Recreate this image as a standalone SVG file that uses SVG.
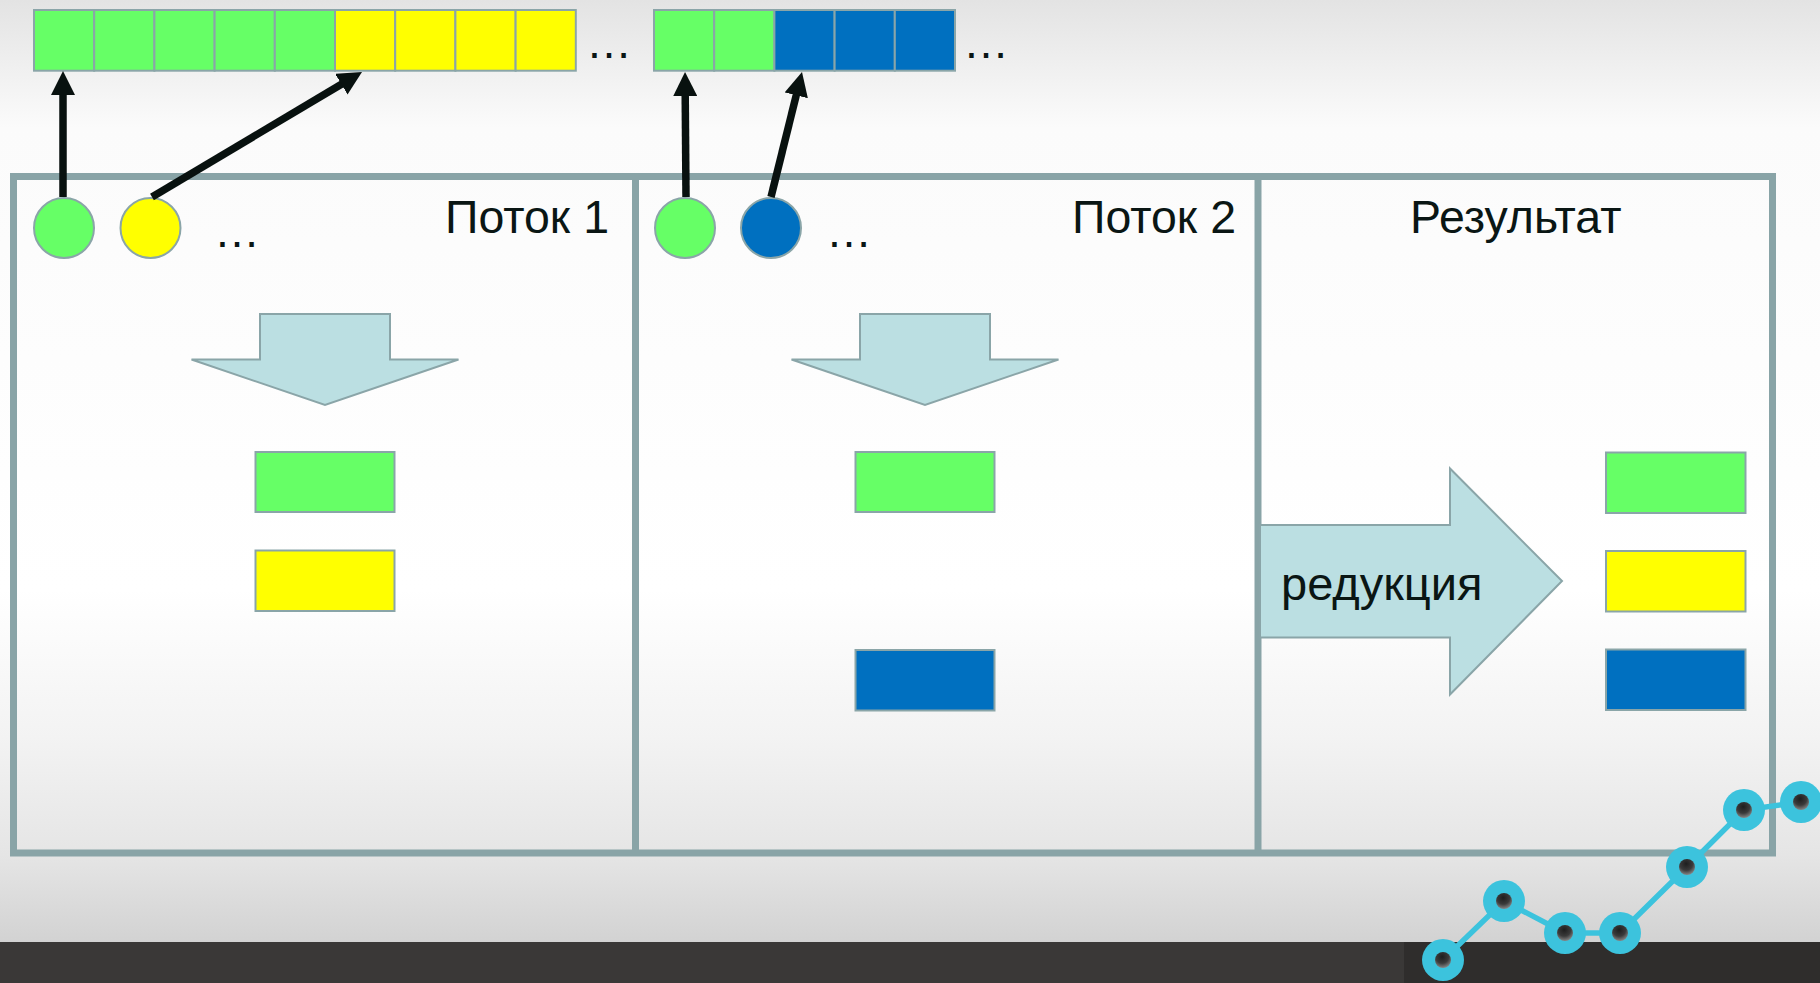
<svg xmlns="http://www.w3.org/2000/svg" width="1820" height="983" viewBox="0 0 1820 983">
<defs>
<linearGradient id="bg" x1="0" y1="0" x2="0" y2="983" gradientUnits="userSpaceOnUse">
<stop offset="0" stop-color="#e3e3e3"/>
<stop offset="0.13" stop-color="#fbfbfb"/>
<stop offset="0.6" stop-color="#ffffff"/>
<stop offset="0.75" stop-color="#f3f3f3"/>
<stop offset="0.87" stop-color="#e5e5e5"/>
<stop offset="0.96" stop-color="#d2d2d2"/>
</linearGradient>
<radialGradient id="dot" cx="0.45" cy="0.3" r="0.8">
<stop offset="0" stop-color="#1e1e1e"/>
<stop offset="0.5" stop-color="#3a3a3a"/>
<stop offset="1" stop-color="#a0a0a0"/>
</radialGradient>
<marker id="ah" markerUnits="userSpaceOnUse" markerWidth="24" markerHeight="24" refX="2" refY="12" orient="auto">
<path d="M0,0 L24,12 L0,24 Z" fill="#08110f"/>
</marker>
<style>
.cell{stroke:#8aa5a8;stroke-width:2}
.g{fill:#66ff66}
.y{fill:#ffff00}
.b{fill:#0070c0}
.frame{fill:none;stroke:#89a4a7;stroke-width:7}
.shape{fill:#bbdfe2;stroke:#8aa5a8;stroke-width:2}
.txt{font-family:"Liberation Sans",Arial,sans-serif;fill:#0a1614}
.conn{fill:none;stroke:#08110f;stroke-width:7.5;marker-end:url(#ah)}
.net{stroke:#3cc3dd;stroke-width:5.5;fill:none}
.nc{fill:#3cc3dd}
</style>
</defs>
<rect x="0" y="0" width="1820" height="983" fill="url(#bg)"/>
<rect x="0" y="942" width="1820" height="41" fill="#3a3837"/>
<rect x="1404" y="942" width="416" height="41" fill="#2f2d2c"/>

<g id="array1">
<rect class="cell g" x="34" y="10" width="60.2" height="60.7"/>
<rect class="cell g" x="94.2" y="10" width="60.2" height="60.7"/>
<rect class="cell g" x="154.4" y="10" width="60.2" height="60.7"/>
<rect class="cell g" x="214.6" y="10" width="60.2" height="60.7"/>
<rect class="cell g" x="274.8" y="10" width="60.2" height="60.7"/>
<rect class="cell y" x="335" y="10" width="60.2" height="60.7"/>
<rect class="cell y" x="395.2" y="10" width="60.2" height="60.7"/>
<rect class="cell y" x="455.4" y="10" width="60.2" height="60.7"/>
<rect class="cell y" x="515.6" y="10" width="60.2" height="60.7"/>
<text class="txt" x="586" y="58" font-size="46">…</text>
</g>
<g id="array2">
<rect class="cell g" x="654" y="10" width="60.2" height="60.7"/>
<rect class="cell g" x="714.2" y="10" width="60.2" height="60.7"/>
<rect class="cell b" x="774.4" y="10" width="60.2" height="60.7"/>
<rect class="cell b" x="834.6" y="10" width="60.2" height="60.7"/>
<rect class="cell b" x="894.8" y="10" width="60.2" height="60.7"/>
<text class="txt" x="963" y="58" font-size="46">…</text>
</g>

<g id="frame">
<rect class="frame" x="13.5" y="176.5" width="1759" height="676.5"/>
<line class="frame" x1="635.5" y1="176.5" x2="635.5" y2="853"/>
<line class="frame" x1="1258" y1="176.5" x2="1258" y2="853"/>
</g>

<g id="thread1">
<circle class="cell g" cx="64" cy="228" r="30"/>
<circle class="cell y" cx="150.5" cy="228" r="30"/>
<text class="txt" x="214" y="247" font-size="46">…</text>
<text class="txt" x="609" y="233.3" font-size="46.5" text-anchor="end">Поток 1</text>
<path class="shape" d="M260,314 L390,314 L390,359.5 L458.5,359.5 L325,405 L191.5,359.5 L260,359.5 Z"/>
<rect class="cell g" x="255.5" y="452" width="139" height="60"/>
<rect class="cell y" x="255.5" y="550.5" width="139" height="60.5"/>
</g>

<g id="thread2">
<circle class="cell g" cx="685" cy="228" r="30"/>
<circle class="cell b" cx="771" cy="228" r="30"/>
<text class="txt" x="826" y="247" font-size="46">…</text>
<text class="txt" x="1236" y="233.3" font-size="46.5" text-anchor="end">Поток 2</text>
<path class="shape" d="M860,314 L990,314 L990,359.5 L1058.5,359.5 L925,405 L791.5,359.5 L860,359.5 Z"/>
<rect class="cell g" x="855.5" y="452" width="139" height="60"/>
<rect class="cell b" x="855.5" y="650" width="139" height="60.5"/>
</g>

<g id="result">
<text class="txt" x="1515.7" y="233.3" font-size="46.5" text-anchor="middle">Результат</text>
<path class="shape" d="M1260,525 L1450,525 L1450,468.5 L1562,581 L1450,694.5 L1450,637.5 L1260,637.5 Z"/>
<text class="txt" x="1281" y="600" font-size="47">редукция</text>
<rect class="cell g" x="1606" y="452.5" width="139.5" height="60.5"/>
<rect class="cell y" x="1606" y="551" width="139.5" height="60.5"/>
<rect class="cell b" x="1606" y="649.5" width="139.5" height="60.5"/>
</g>

<g id="connectors">
<path class="conn" d="M63,197 L63,93"/>
<path class="conn" d="M152,197 L343.1,83.2"/>
<path class="conn" d="M686,197 L685.2,94"/>
<path class="conn" d="M771,197 L796.7,93.4"/>
</g>

<g id="network">
<polyline class="net" points="1443,960 1504,901 1565,933 1620,933 1687,867 1744,810 1801,802"/>
<circle class="nc" cx="1443" cy="960" r="21"/>
<circle class="nc" cx="1504" cy="901" r="21"/>
<circle class="nc" cx="1565" cy="933" r="21"/>
<circle class="nc" cx="1620" cy="933" r="21"/>
<circle class="nc" cx="1687" cy="867" r="21"/>
<circle class="nc" cx="1744" cy="810" r="21"/>
<circle class="nc" cx="1801" cy="802" r="21"/>
<circle fill="url(#dot)" cx="1443" cy="960" r="8"/>
<circle fill="url(#dot)" cx="1504" cy="901" r="8"/>
<circle fill="url(#dot)" cx="1565" cy="933" r="8"/>
<circle fill="url(#dot)" cx="1620" cy="933" r="8"/>
<circle fill="url(#dot)" cx="1687" cy="867" r="8"/>
<circle fill="url(#dot)" cx="1744" cy="810" r="8"/>
<circle fill="url(#dot)" cx="1801" cy="802" r="8"/>
</g>
</svg>
